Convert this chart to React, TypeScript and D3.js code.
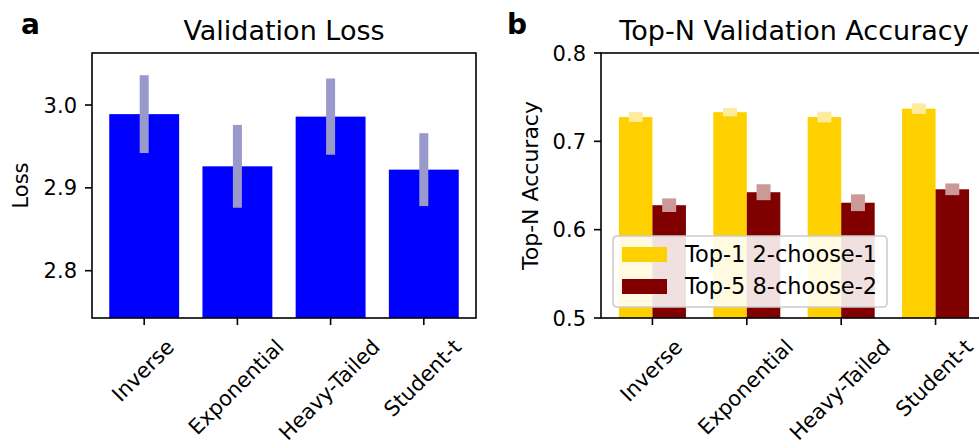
import React, { useRef, useEffect } from "react";
import * as d3 from "d3";

const categories = ["Inverse", "Exponential", "Heavy-Tailed", "Student-t"];
const lossMean = [2.989, 2.926, 2.986, 2.922];
const lossErr = [0.047, 0.05, 0.046, 0.044];
const lossTicks = [2.8, 2.9, 3.0];

const top1 = [0.7275, 0.733, 0.7275, 0.737];
const top1Err = [0.0055, 0.0047, 0.006, 0.006];
const top5 = [0.6277, 0.6424, 0.6305, 0.6457];
const top5Err = [0.0077, 0.009, 0.0095, 0.0066];
const accTicks = [0.5, 0.6, 0.7, 0.8];
const seriesNames = ["Top-1 2-choose-1", "Top-5 8-choose-2"];

const W = 979;
const H = 448;
const FONT = "DejaVu Sans";

const App = () => {
  const ref = useRef<SVGSVGElement>(null);

  useEffect(() => {
    const svg = d3.select(ref.current);
    svg.selectAll("*").remove();

    // x tick labels rotated 45deg, bbox centred on the tick (matplotlib style)
    function rotatedLabels(g: any, xs: number[], y0: number) {
      const fs = 21;
      const a = 0.76 * fs;
      const d = 0.24 * fs;
      const c = Math.SQRT1_2;
      categories.forEach((name, i) => {
        const t = g
          .append("text")
          .attr("font-family", FONT)
          .attr("font-size", fs)
          .attr("text-anchor", "end")
          .text(name);
        const w = (t.node() as SVGTextElement).getComputedTextLength();
        const px = xs[i] + (c * (w + a - d)) / 2;
        const py = y0 + a * c;
        t.attr("transform", `translate(${px},${py}) rotate(-45)`);
      });
    }

    function yAxis(g: any, y: any, ticks: number[], x0: number) {
      ticks.forEach((v) => {
        g.append("line")
          .attr("x1", x0 - 7)
          .attr("x2", x0)
          .attr("y1", y(v))
          .attr("y2", y(v))
          .attr("stroke", "#000")
          .attr("stroke-width", 1.6);
        g.append("text")
          .attr("x", x0 - 15)
          .attr("y", y(v))
          .attr("dy", "0.36em")
          .attr("text-anchor", "end")
          .attr("font-family", FONT)
          .attr("font-size", 21)
          .text(d3.format(".1f")(v));
      });
    }

    // ---------- panel a ----------
    const a = { left: 92, right: 476, top: 53, bottom: 318 };
    const xa = d3
      .scaleBand()
      .domain(categories)
      .range([a.left, a.right])
      .paddingInner(0.25)
      .paddingOuter(0.185);
    const ya = d3.scaleLinear().domain([2.7429, 3.0628]).range([a.bottom, a.top]);
    const ga = svg.append("g");

    ga.selectAll(".bar")
      .data(categories)
      .enter()
      .append("rect")
      .attr("x", (d) => xa(d)!)
      .attr("width", xa.bandwidth())
      .attr("y", (d, i) => ya(lossMean[i]))
      .attr("height", (d, i) => a.bottom - ya(lossMean[i]))
      .attr("fill", "#0000ff");

    ga.selectAll(".err")
      .data(categories)
      .enter()
      .append("rect")
      .attr("x", (d) => xa(d)! + xa.bandwidth() / 2 - 4.5)
      .attr("width", 9)
      .attr("y", (d, i) => ya(lossMean[i] + lossErr[i]))
      .attr("height", (d, i) => ya(lossMean[i] - lossErr[i]) - ya(lossMean[i] + lossErr[i]))
      .attr("fill", "#9999cc");

    ga.append("rect")
      .attr("x", a.left)
      .attr("y", a.top)
      .attr("width", a.right - a.left)
      .attr("height", a.bottom - a.top)
      .attr("fill", "none")
      .attr("stroke", "#000")
      .attr("stroke-width", 1.6);

    yAxis(ga, ya, lossTicks, a.left);
    const xsA = categories.map((c) => xa(c)! + xa.bandwidth() / 2);
    xsA.forEach((x) => {
      ga.append("line")
        .attr("x1", x).attr("x2", x)
        .attr("y1", a.bottom).attr("y2", a.bottom + 7)
        .attr("stroke", "#000").attr("stroke-width", 1.6);
    });
    rotatedLabels(ga, xsA, 337);

    ga.append("text")
      .attr("x", (a.left + a.right) / 2)
      .attr("y", 40)
      .attr("text-anchor", "middle")
      .attr("font-family", FONT)
      .attr("font-size", 27)
      .text("Validation Loss");
    ga.append("text")
      .attr("transform", `translate(28,${(a.top + a.bottom) / 2}) rotate(-90)`)
      .attr("text-anchor", "middle")
      .attr("font-family", FONT)
      .attr("font-size", 21)
      .text("Loss");
    ga.append("text")
      .attr("x", 21)
      .attr("y", 34)
      .attr("font-family", FONT)
      .attr("font-weight", "bold")
      .attr("font-size", 28)
      .text("a");

    // ---------- panel b ----------
    const b = { left: 601, right: 987, top: 53, bottom: 318 };
    const xb = d3
      .scaleBand()
      .domain(categories)
      .range([b.left, b.right])
      .paddingInner(0.29)
      .paddingOuter(0.19);
    const xs = d3.scaleBand().domain(seriesNames).range([0, xb.bandwidth()]);
    const yb = d3.scaleLinear().domain([0.5, 0.8]).range([b.bottom, b.top]);
    const gb = svg.append("g");

    const series = [
      { name: seriesNames[0], vals: top1, errs: top1Err, color: "#ffd000", ecolor: "#feeb9b" },
      { name: seriesNames[1], vals: top5, errs: top5Err, color: "#800000", ecolor: "#cc9999" },
    ];

    series.forEach((s) => {
      gb.selectAll(null)
        .data(categories)
        .enter()
        .append("rect")
        .attr("x", (d) => xb(d)! + xs(s.name)!)
        .attr("width", xs.bandwidth())
        .attr("y", (d, i) => yb(s.vals[i]))
        .attr("height", (d, i) => b.bottom - yb(s.vals[i]))
        .attr("fill", s.color);
    });
    series.forEach((s) => {
      gb.selectAll(null)
        .data(categories)
        .enter()
        .append("rect")
        .attr("x", (d) => xb(d)! + xs(s.name)! + xs.bandwidth() / 2 - 7)
        .attr("width", 14)
        .attr("y", (d, i) => yb(s.vals[i] + s.errs[i]))
        .attr("height", (d, i) => yb(s.vals[i] - s.errs[i]) - yb(s.vals[i] + s.errs[i]))
        .attr("fill", s.ecolor);
    });

    gb.append("rect")
      .attr("x", b.left)
      .attr("y", b.top)
      .attr("width", b.right - b.left)
      .attr("height", b.bottom - b.top)
      .attr("fill", "none")
      .attr("stroke", "#000")
      .attr("stroke-width", 1.6);

    yAxis(gb, yb, accTicks, b.left);
    const xsB = categories.map((c) => xb(c)! + xb.bandwidth() / 2);
    xsB.forEach((x) => {
      gb.append("line")
        .attr("x1", x).attr("x2", x)
        .attr("y1", b.bottom).attr("y2", b.bottom + 7)
        .attr("stroke", "#000").attr("stroke-width", 1.6);
    });
    rotatedLabels(gb, xsB, 337);

    gb.append("text")
      .attr("x", (b.left + b.right) / 2)
      .attr("y", 40)
      .attr("text-anchor", "middle")
      .attr("font-family", FONT)
      .attr("font-size", 27)
      .text("Top-N Validation Accuracy");
    gb.append("text")
      .attr("transform", `translate(538,${(b.top + b.bottom) / 2}) rotate(-90)`)
      .attr("text-anchor", "middle")
      .attr("font-family", FONT)
      .attr("font-size", 22)
      .text("Top-N Accuracy");
    gb.append("text")
      .attr("x", 507)
      .attr("y", 34)
      .attr("font-family", FONT)
      .attr("font-weight", "bold")
      .attr("font-size", 28)
      .text("b");

    // legend
    const lg = gb.append("g").attr("transform", "translate(613,236)");
    lg.append("rect")
      .attr("width", 274)
      .attr("height", 71)
      .attr("rx", 4)
      .attr("fill", "#fff")
      .attr("fill-opacity", 0.88)
      .attr("stroke", "#cccccc")
      .attr("stroke-width", 1.6);
    series.forEach((s, i) => {
      lg.append("rect")
        .attr("x", 9)
        .attr("y", 11 + i * 32)
        .attr("width", 45)
        .attr("height", 15)
        .attr("fill", s.color);
      lg.append("text")
        .attr("x", 72)
        .attr("y", 26 + i * 32)
        .attr("font-family", FONT)
        .attr("font-size", 22.5)
        .text(s.name);
    });
  }, []);

  return (
    <svg
      ref={ref}
      width={W}
      height={H}
      style={{ position: "absolute", left: 0, top: 0, background: "#fff" }}
    ></svg>
  );
};

export default App;
